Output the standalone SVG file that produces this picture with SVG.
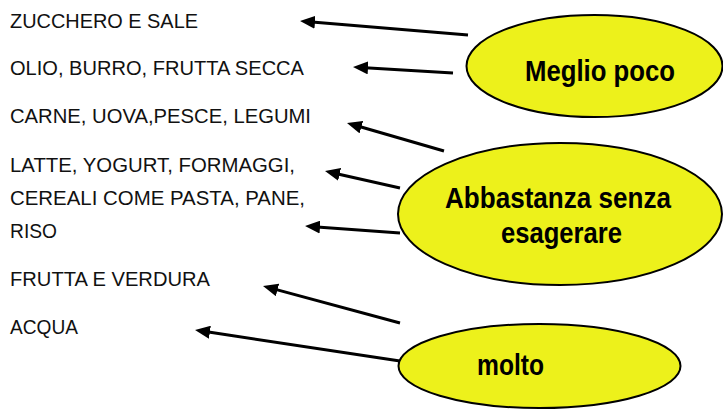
<svg xmlns="http://www.w3.org/2000/svg" width="723" height="409" viewBox="0 0 723 409">
<defs>
<style>
.item{font-family:"Liberation Sans",Arial,sans-serif;font-size:20px;fill:#111}
.lbl{font-family:"Liberation Sans",Arial,sans-serif;font-size:29px;font-weight:bold;fill:#000;text-anchor:middle}
.ell{fill:#EDF11B;stroke:#000;stroke-width:2}
.arr{stroke:#000;stroke-width:3;fill:none;marker-end:url(#ah)}
</style>
<marker id="ah" markerUnits="userSpaceOnUse" markerWidth="15" markerHeight="13" viewBox="0 0 15 13" refX="3" refY="6.5" orient="auto">
<path d="M0,0 L15,6.5 L0,13 z" fill="#000"/>
</marker>
</defs>
<rect width="723" height="409" fill="#fff"/>
<g id="items">
<text class="item" x="10" y="28" textLength="188" lengthAdjust="spacingAndGlyphs">ZUCCHERO E SALE</text>
<text class="item" x="10" y="75" textLength="294" lengthAdjust="spacingAndGlyphs">OLIO, BURRO, FRUTTA SECCA</text>
<text class="item" x="10" y="123" textLength="301" lengthAdjust="spacingAndGlyphs">CARNE, UOVA,PESCE, LEGUMI</text>
<text class="item" x="10" y="172" textLength="285" lengthAdjust="spacingAndGlyphs">LATTE, YOGURT, FORMAGGI,</text>
<text class="item" x="10" y="205" textLength="295" lengthAdjust="spacingAndGlyphs">CEREALI COME PASTA, PANE,</text>
<text class="item" x="10" y="238" textLength="47" lengthAdjust="spacingAndGlyphs">RISO</text>
<text class="item" x="10" y="286" textLength="200" lengthAdjust="spacingAndGlyphs">FRUTTA E VERDURA</text>
<text class="item" x="10" y="334" textLength="68" lengthAdjust="spacingAndGlyphs">ACQUA</text>
</g>
<g id="connectors">
<line class="arr" x1="468" y1="35" x2="312" y2="22"/>
<line class="arr" x1="453" y1="73" x2="365" y2="67.7"/>
<line class="arr" x1="444" y1="151" x2="358.5" y2="126.3"/>
<line class="arr" x1="400" y1="188" x2="336.7" y2="173.7"/>
<line class="arr" x1="400" y1="233" x2="317" y2="226.9"/>
<line class="arr" x1="400" y1="323" x2="274.6" y2="289.1"/>
<line class="arr" x1="400" y1="361" x2="206.9" y2="331.8"/>
</g>
<g id="meglio-poco">
<ellipse class="ell" cx="594.5" cy="66" rx="128" ry="51"/>
<text class="lbl" x="600" y="81" textLength="150" lengthAdjust="spacingAndGlyphs">Meglio poco</text>
</g>
<g id="abbastanza">
<ellipse class="ell" cx="560" cy="214" rx="162" ry="71"/>
<text class="lbl" x="558" y="208" textLength="226" lengthAdjust="spacingAndGlyphs">Abbastanza senza</text>
<text class="lbl" x="561.5" y="243" textLength="121" lengthAdjust="spacingAndGlyphs">esagerare</text>
</g>
<g id="molto">
<ellipse class="ell" cx="539.5" cy="366" rx="141" ry="42"/>
<text class="lbl" x="510.5" y="375" textLength="67" lengthAdjust="spacingAndGlyphs">molto</text>
</g>
</svg>
